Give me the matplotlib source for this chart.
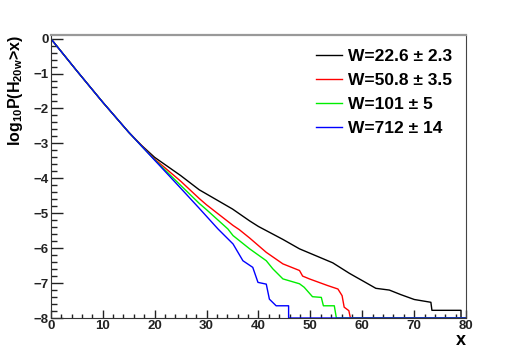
import matplotlib
matplotlib.use("Agg")
import matplotlib.pyplot as plt
from matplotlib.ticker import MultipleLocator

# cumulative tails log10 P(H20w > x)
x_w1 = [0, 5, 10, 15, 17.5, 20, 25, 28.6, 30, 35, 38.3, 40, 44.7, 47.9, 51.1, 54.3,
        57.5, 58.8, 60, 62.6, 65.2, 67.4, 70, 73.2, 73.4, 79, 79, 80]
y_w1 = [0, -0.92, -1.82, -2.68, -3.06, -3.40, -3.92, -4.33, -4.45, -4.88, -5.22, -5.38,
        -5.75, -6.02, -6.22, -6.42, -6.72, -6.83, -6.93, -7.15, -7.2, -7.33, -7.47,
        -7.55, -7.78, -7.78, -8, -8]

x_w2 = [0, 5, 10, 15, 17.5, 20, 25, 28.6, 30, 35.1, 36.3, 38.3, 41.5, 44.7, 47.9,
        48.5, 49.8, 53.3, 55.3, 56.1, 56.5, 57.4, 57.7, 80]
y_w2 = [0, -0.92, -1.82, -2.68, -3.07, -3.45, -4.08, -4.58, -4.76, -5.35, -5.47,
        -5.71, -6.12, -6.45, -6.64, -6.80, -6.88, -7.07, -7.17, -7.36, -7.69, -7.79,
        -8, -8]

x_w3 = [0, 5, 10, 15, 17.5, 20, 25, 28.6, 30, 34.1, 35.1, 38.3, 41.5, 42.75, 44.7,
        47.9, 48.8, 50.4, 52.1, 52.5, 54.6, 55.0, 80]
y_w3 = [0, -0.92, -1.82, -2.68, -3.08, -3.47, -4.20, -4.72, -4.90, -5.45, -5.64,
        -6.02, -6.36, -6.59, -6.88, -7.02, -7.12, -7.39, -7.41, -7.65, -7.65, -8, -8]

x_w4 = [0, 5, 10, 15, 17.5, 20, 25, 28.6, 32.2, 35.1, 37, 38.9, 39.9, 41.5, 42.1,
        43.4, 45.8, 45.8, 80]
y_w4 = [0, -0.92, -1.82, -2.68, -3.08, -3.48, -4.28, -4.86, -5.45, -5.88, -6.36,
        -6.55, -6.98, -7.03, -7.46, -7.65, -7.65, -8, -8]

labels = ["W=22.6 \u00b1 2.3", "W=50.8 \u00b1 3.5", "W=101 \u00b1 5", "W=712 \u00b1 14"]
colors = ["black", "#ff0000", "#00ee00", "#0000ff"]

plt.rcParams["font.family"] = ["Liberation Sans", "DejaVu Sans"]
plt.rcParams["font.weight"] = "bold"
plt.rcParams["mathtext.fontset"] = "custom"
plt.rcParams["mathtext.rm"] = "Liberation Sans:bold"
plt.rcParams["mathtext.bf"] = "Liberation Sans:bold"
plt.rcParams["mathtext.it"] = "Liberation Sans:bold"
plt.rcParams["mathtext.default"] = "bf"

fig = plt.figure(figsize=(5.18, 3.51), dpi=100)
ax = fig.add_axes([0.098, 0.094, 0.802, 0.806])

series = [(x_w1, y_w1), (x_w2, y_w2), (x_w3, y_w3), (x_w4, y_w4)]
for (xs, ys), lab, col in zip(series, labels, colors):
    ax.plot(xs, ys, color=col, lw=1, label=lab)

ax.set_xlim(0, 80)
ax.set_ylim(-8, 0.1)
ax.xaxis.set_major_locator(MultipleLocator(10))
ax.xaxis.set_minor_locator(MultipleLocator(2))
ax.yaxis.set_major_locator(MultipleLocator(1))
ax.yaxis.set_minor_locator(MultipleLocator(0.2))

ax.tick_params(axis="both", which="both", direction="in", colors="#222222",
               labelsize=9.5, width=1)
ax.tick_params(axis="x", which="major", length=5.6, pad=1.5)
ax.tick_params(axis="x", which="minor", length=2.9)
ax.tick_params(axis="y", which="major", length=8.5, pad=1.5)
ax.tick_params(axis="y", which="minor", length=4.6)
for lbl in ax.get_xticklabels() + ax.get_yticklabels():
    lbl.set_fontweight("bold")

for side in ["left", "bottom"]:
    ax.spines[side].set_color("#333333")
ax.spines["top"].set_color("#999999")
ax.spines["top"].set_linewidth(1.6)
ax.spines["right"].set_color("#444444")

ax.set_ylabel(r"log$_{10}$P(H$_{20w}$>x)", fontsize=11.5, fontweight="bold", loc="top")
ax.yaxis.set_label_coords(-0.062, 1.0)
ax.set_xlabel("x", fontsize=13, fontweight="bold", loc="right")
ax.xaxis.set_label_coords(1.0, -0.05)

ax.legend(loc="upper left", bbox_to_anchor=(0.639, 0.95), frameon=False,
          handlelength=1.5, labelspacing=0.5, borderaxespad=0, borderpad=0,
          handletextpad=0.35, prop={"weight": "bold", "size": 12.5})

fig.savefig("out.png", dpi=100)
